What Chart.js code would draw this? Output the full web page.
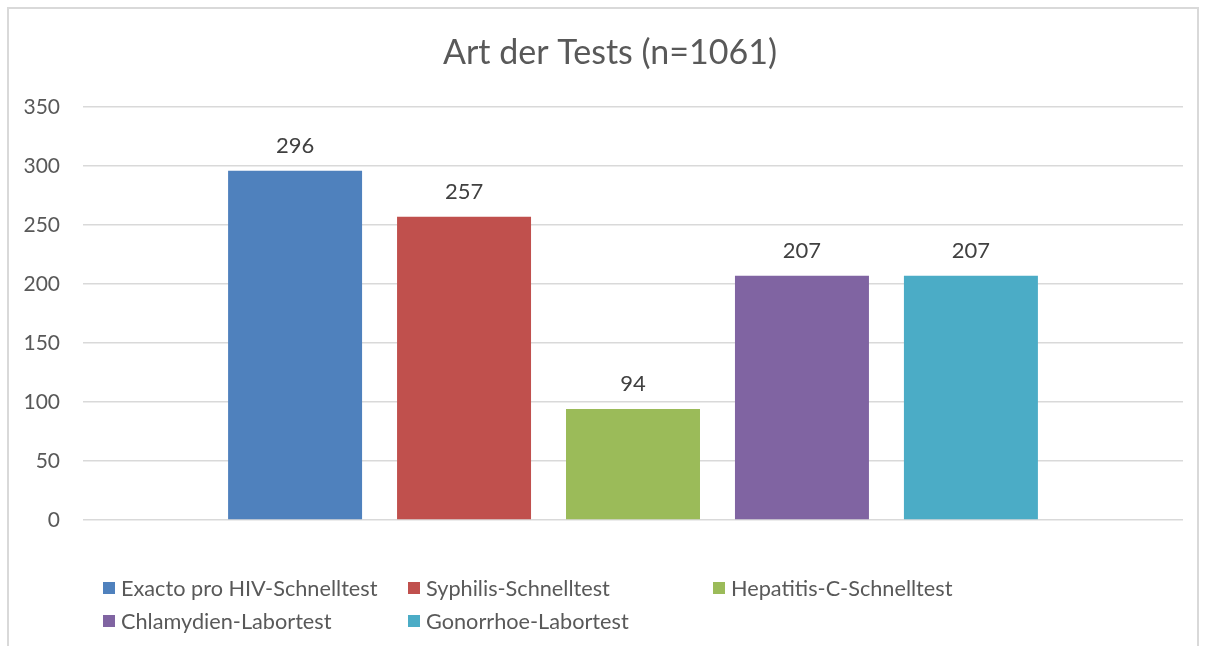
<!DOCTYPE html>
<html>
<head>
<meta charset="utf-8">
<script src="https://cdn.jsdelivr.net/npm/chart.js@4"></script>
<style>
  html, body { margin: 0; padding: 0; background: #fff; overflow: hidden; }
  #wrap { position: relative; width: 1206px; height: 646px; }
  #frame { position: absolute; left: 7px; top: 7px; width: 1192px; height: 700px;
           border: 2px solid #d9d9d9; box-sizing: border-box; pointer-events: none; }
  canvas { position: absolute; left: 0; top: 0; }
</style>
</head>
<body>
<div id="wrap">
  <div id="frame"></div>
  <canvas id="chart" width="1206" height="646"></canvas>
</div>
<script>
const chartTitle = 'Art der Tests (n=1061)';
const categories = [''];
const seriesNames = [
  'Exacto pro HIV-Schnelltest',
  'Syphilis-Schnelltest',
  'Hepatitis-C-Schnelltest',
  'Chlamydien-Labortest',
  'Gonorrhoe-Labortest'
];
const seriesValues = [296, 257, 94, 207, 207];
const seriesColors = ['#4f81bd', '#c0504d', '#9bbb59', '#8064a2', '#4bacc6'];
const yTicks = [0, 50, 100, 150, 200, 250, 300, 350];

const fontFamily = 'Lato, "Noto Sans", sans-serif';
const textColor = '#595959';

// title centred over the whole frame (not the plot)
const frameTitle = {
  id: 'frameTitle',
  afterDraw(chart) {
    const ctx = chart.ctx;
    ctx.save();
    ctx.font = '34px ' + fontFamily;
    ctx.fillStyle = textColor;
    ctx.textAlign = 'center';
    ctx.textBaseline = 'middle';
    ctx.fillText(chartTitle, 610, 53);
    ctx.restore();
  }
};

// value labels above each bar
const valueLabels = {
  id: 'valueLabels',
  afterDatasetsDraw(chart) {
    const ctx = chart.ctx;
    ctx.save();
    ctx.font = '22px ' + fontFamily;
    ctx.fillStyle = '#404040';
    ctx.textAlign = 'center';
    ctx.textBaseline = 'middle';
    chart.data.datasets.forEach((ds, i) => {
      const meta = chart.getDatasetMeta(i);
      meta.data.forEach((bar, j) => {
        ctx.fillText(String(ds.data[j]), bar.x, bar.y - 25);
      });
    });
    ctx.restore();
  }
};

// legend laid out in columns, like the office chart
const gridLegend = {
  id: 'gridLegend',
  afterDraw(chart) {
    const ctx = chart.ctx;
    ctx.save();
    ctx.font = '21.7px ' + fontFamily;
    ctx.textBaseline = 'middle';
    ctx.textAlign = 'left';
    chart.data.datasets.forEach((ds, i) => {
      const col = i % 3;
      const row = Math.floor(i / 3);
      const x = 103 + col * 305;
      const y = 588 + row * 33;
      ctx.fillStyle = ds.backgroundColor;
      ctx.fillRect(x, y - 6, 12, 12);
      ctx.fillStyle = textColor;
      ctx.fillText(ds.label, x + 18, y + 1);
    });
    ctx.restore();
  }
};

const ctx = document.getElementById('chart').getContext('2d');
new Chart(ctx, {
  type: 'bar',
  data: {
    labels: categories,
    datasets: seriesNames.map((name, i) => ({
      label: name,
      data: [seriesValues[i]],
      backgroundColor: seriesColors[i],
      categoryPercentage: 0.768,
      barPercentage: 0.793
    }))
  },
  options: {
    responsive: false,
    animation: false,
    devicePixelRatio: 1,
    layout: { padding: { left: 0, right: 23, top: 107, bottom: 126 } },
    plugins: {
      legend: { display: false },
      tooltip: { enabled: false },
      title: { display: false }
    },
    scales: {
      x: { display: false },
      y: {
        min: yTicks[0],
        max: yTicks[yTicks.length - 1],
        afterBuildTicks(scale) {
          scale.ticks = yTicks.map(v => ({ value: v }));
        },
        afterFit(scale) { scale.width = 83; },
        border: { display: false },
        grid: { color: '#d9d9d9', lineWidth: 1.5, drawTicks: false },
        ticks: {
          color: textColor,
          padding: 23,
          font: { family: fontFamily, size: 21 }
        }
      }
    }
  },
  plugins: [valueLabels, gridLegend, frameTitle]
});
</script>
</body>
</html>
